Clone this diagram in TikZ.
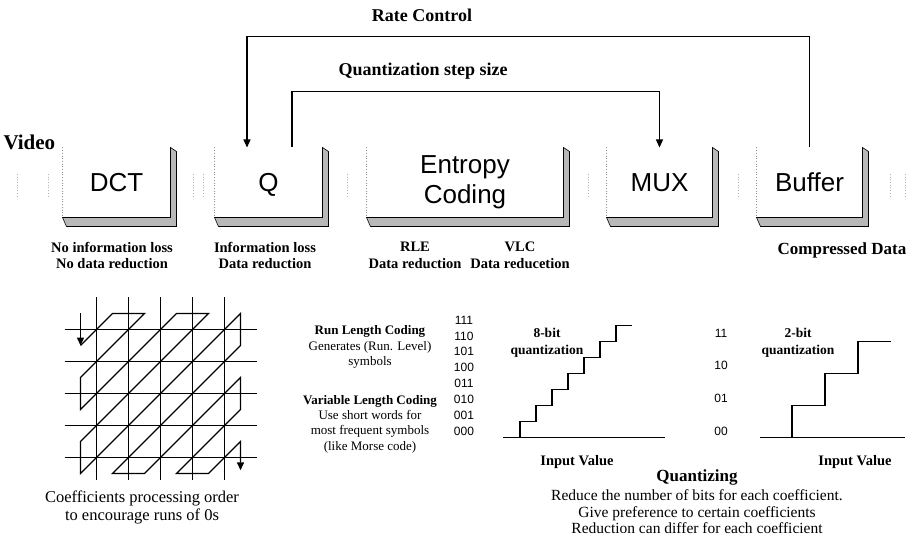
\documentclass[tikz,border=0pt]{standalone}
\usepackage{fontspec}
\setmainfont{Liberation Serif}
\setsansfont{Liberation Sans}
\usetikzlibrary{arrows.meta,positioning}

\begin{document}
\begin{tikzpicture}[%
    x=1pt, y=-1pt,                       % pixel-like units, y grows downwards
    >={Triangle[length=8pt,width=7pt]},  % solid arrow heads
    line width=1pt,
    ]
% -------------------------------------------------
% Styles
\tikzset{
  blk/.style={rectangle, inner sep=0pt, minimum height=69pt, align=center,
    font=\sffamily\fontsize{26}{30}\selectfont},
  one/.style={blk, text height=18.5pt, text depth=0pt},
  bevel/.style={fill=black!28, draw=black, line width=0.6pt},
  edge/.style={draw=black!45, dotted, line width=0.7pt},
  faint/.style={draw=black!30, dotted, line width=0.7pt},
  sub/.style={align=center, font=\bfseries\fontsize{14.5}{16.5}\selectfont},
  head/.style={font=\bfseries\fontsize{18}{20}\selectfont},
  body/.style={align=center, font=\fontsize{15.5}{16.5}\selectfont},
  note/.style={align=center, font=\fontsize{13}{15.3}\selectfont},
  qlab/.style={align=center, font=\bfseries\fontsize{13.5}{17}\selectfont},
  axl/.style={font=\sffamily\fontsize{12}{14}\selectfont},
  fb/.style={->, line width=1.1pt},
  gridline/.style={line width=1.6pt},
  scan/.style={->, line width=1.4pt},
  stair/.style={line width=1.5pt},
}
\path[fill=white] (0,0) rectangle (919,540);
% -------------------------------------------------
% The coder chain
\node[one, minimum width=107pt] (dct) at (116.5,182.5) {DCT};
\node[one, minimum width=107pt] (q)   at (268.5,182.5) {Q};
\node[blk, minimum width=196pt] (ent) at (465,182.5)   {Entropy\\Coding};
\node[one, minimum width=105pt] (mux) at (659.5,182.5) {MUX};
\node[one, minimum width=105pt] (buf) at (809.5,182.5) {Buffer};

\foreach \n in {dct,q,ent,mux,buf}{
  \draw[bevel] (\n.north east) -- ++(6,4) |- ([shift={(4,9)}]\n.south west)
    -- (\n.south west) -- (\n.south east) -- cycle;
  \draw[edge] (\n.north west) -- (\n.south west);
}
% faint marks left from the scan between the boxes
\foreach \x in {17,48,193,203,347,588,738,890,905}
  \draw[faint] (\x,174) -- (\x,196);

\node[head, font=\bfseries\fontsize{21}{23}\selectfont, anchor=west,
  inner sep=0pt] (video) at (3,142) {Video};
\node[head, font=\bfseries\fontsize{17}{19}\selectfont] (out) at (842,250)
  {Compressed Data};

% feedback loops
\node[head] (rate) at (422,15) {Rate Control};
\node[head] (qss)  at (423,71) {Quantization step size};
\draw[fb] (buf.north) -- ++(0,-111) -| ([xshift=-21.5pt]q.north);
\draw[fb] ([xshift=23.5pt]q.north) -- ++(0,-56) -| (mux.north);

% notes under the boxes
\node[sub] (dctl) at (112,255.5) {No information loss\\No data reduction};
\node[sub] (ql)   at (265,255.5) {Information loss\\Data reduction};
\node[sub] (rle)  at (415,255.5) {RLE\\Data reduction};
\node[sub] (vlc)  at (520,255.5) {VLC\\Data reducetion};

% -------------------------------------------------
% Zig-zag scan over the coefficient grid
\begin{scope}[shift={(96.5,329.5)}, x=32pt, y=-32pt]
  \foreach \i in {0,...,4} \draw[gridline] (\i,-1) -- (\i,4.7);
  \foreach \j in {0,...,4} \draw[gridline] (-1,\j) -- (5,\j);
  \draw[scan] (-0.5,-0.5) -- (-0.5,0.5);
  \draw[scan] (-0.5,0.5) -- (0.5,-0.5) -- (1.5,-0.5)
    -- (-0.5,1.5) -- (-0.5,2.5) -- (2.5,-0.5) -- (3.5,-0.5) -- (-0.5,3.5)
    -- (-0.5,4.5) -- (4.5,-0.5) -- (4.5,0.5) -- (0.5,4.5) -- (1.5,4.5)
    -- (4.5,1.5) -- (4.5,2.5) -- (2.5,4.5) -- (3.5,4.5) -- (4.5,3.5)
    -- (4.5,4.4);
\end{scope}
\node[body, font=\fontsize{16.5}{18}\selectfont] (cap) at (142,507)
  {Coefficients processing order\\to encourage runs of 0s};

% coding notes
\node[note] (rlc) at (370,347)
  {\textbf{Run Length Coding}\\Generates (Run. Level)\\symbols};
\node[note] (vlct) at (370,424)
  {\textbf{Variable Length Coding}\\Use short words for\\most frequent symbols\\(like Morse code)};

% -------------------------------------------------
% Quantizer curves
\draw[stair] (503,437.7) -- (665,437.7);
\draw[stair] (520,437.7) -- ++(0,-16)
  \foreach \k in {1,...,6}{ -- ++(16,0) -- ++(0,-16)} -- ++(16,0);
\foreach \v [count=\k from 0] in {111,110,101,100,011,010,001,000}
  \node[axl] (l\v) at (464,320+15.9*\k) {\v};
\node[qlab] (q8) at (547,343) {8-bit\\quantization};

\draw[stair] (760,437.7) -- (905,437.7);
\draw[stair] (792,437.7) -- ++(0,-32)
  \foreach \k in {1,2}{ -- ++(33,0) -- ++(0,-32)} -- ++(33,0);
\foreach \v [count=\k from 0] in {11,10,01,00}
  \node[axl] (m\v) at (721,333+32.7*\k) {\v};
\node[qlab] (q2) at (798,343) {2-bit\\quantization};

\node[sub] (in8) at (577,462) {Input Value};
\node[sub] (in2) at (855,462) {Input Value};
\node[head, font=\bfseries\fontsize{17}{19}\selectfont] (quz) at (697,477)
  {Quantizing};
\node[body] (qtxt) at (697,512) {Reduce the number of bits for each coefficient.\\
  Give preference to certain coefficients\\Reduction can differ for each coefficient};
% -------------------------------------------------
\end{tikzpicture}
\end{document}
